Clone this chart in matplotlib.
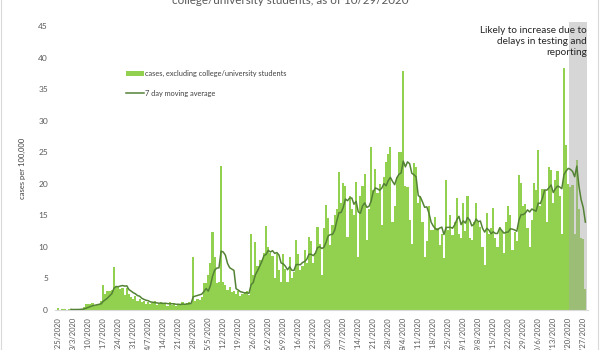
import numpy as np
import pandas as pd
import matplotlib
matplotlib.use('Agg')
import matplotlib.pyplot as plt
from matplotlib.patches import Patch, Rectangle
from matplotlib.lines import Line2D

plt.rcParams['font.family'] = ['Lato', 'DejaVu Sans']

# daily cases per 100,000, 2/25/2020 .. 10/28/2020
cases = [
    0.3, 0, 0.1, 0.1, 0, 0.1, 0.1,
    0.1, 0, 0.2, 0.1, 0.2, 0.4, 1.0,
    1.0, 0.9, 1.1, 0.6, 0.8, 0.9, 1.5,
    3.9, 2.6, 3.0, 3.0, 3.2, 6.8, 3.6,
    3.6, 3.4, 3.5, 2.4, 3.5, 2.6, 2.0,
    1.8, 2.2, 1.5, 1.7, 1.2, 1.4, 1.0,
    1.3, 0.9, 1.1, 1.4, 0.8, 1.0, 1.2,
    0.9, 1.1, 0.7, 1.2, 0.8, 1.0, 0.6,
    1.0, 0.8, 1.2, 0.9, 1.1, 1.3, 1.0,
    8.4, 1.5, 1.8, 1.6, 2.0, 4.3, 4.2,
    5.5, 7.5, 12.3, 8.4, 4.3, 4.5, 22.8,
    4.5, 4.0, 3.2, 3.6, 2.8, 3.0, 2.5,
    3.0, 2.2, 2.6, 2.8, 3.0, 2.4, 12.0,
    5.5, 10.8, 7.0, 8.0, 8.0, 9.0, 13.3,
    10.0, 9.0, 8.5, 5.0, 8.9, 6.3, 4.5,
    8.9, 6.5, 4.5, 8.4, 5.0, 6.0, 11.1,
    8.9, 6.3, 7.0, 9.5, 7.5, 11.6, 11.0,
    7.4, 9.0, 13.2, 10.5, 5.5, 13.0, 16.6,
    14.5, 10.3, 13.5, 15.0, 16.0, 21.9, 17.0,
    20.1, 19.6, 11.6, 18.0, 16.0, 15.0, 20.3,
    8.4, 18.0, 19.6, 21.5, 11.1, 16.0, 25.9,
    19.0, 22.3, 18.5, 20.0, 13.5, 21.0, 23.5,
    24.7, 25.9, 14.0, 16.4, 21.0, 25.0, 25.0,
    37.8, 19.6, 19.5, 14.3, 10.5, 23.3, 22.7,
    17.0, 18.0, 14.0, 8.4, 11.0, 16.4, 12.7,
    12.7, 14.8, 13.0, 10.3, 12.0, 8.2, 20.6,
    12.7, 15.0, 11.9, 14.0, 17.7, 12.0, 11.4,
    16.9, 12.5, 18.0, 11.4, 11.1, 14.0, 17.0,
    14.0, 13.2, 10.0, 7.1, 15.3, 12.0, 13.0,
    16.1, 11.4, 10.0, 13.2, 12.5, 9.0, 14.0,
    16.4, 15.0, 9.5, 12.4, 11.0, 21.4, 20.1,
    16.4, 16.8, 13.0, 10.0, 14.3, 20.1, 19.0,
    25.4, 16.4, 19.1, 18.9, 14.0, 22.7, 22.2,
    17.0, 20.6, 22.0, 18.0, 12.0, 38.3, 26.2,
    20.0, 19.5, 19.8, 12.0, 23.8, 16.0, 11.4,
    11.2, 3.3,
]
start_date = '2020-02-25'
shade_from = '2020-10-21'   # incomplete data
bar_label = 'cases, excluding college/university students'
line_label = '7 day moving average'
title = 'college/university students, as of 10/29/2020'
note = 'Likely to increase due to\ndelays in testing and\nreporting'

dates = pd.date_range(start_date, periods=len(cases))
x = np.arange(len(cases))
ma = pd.Series(cases).rolling(7).mean()
shade_x = int((pd.Timestamp(shade_from) - dates[0]).days) - 0.5

fig = plt.figure(figsize=(6, 3.5), dpi=100)
ax = fig.add_axes([0.0917, 0.1143, 0.8875, 0.8114])

ax.bar(x, cases, width=1.0, color='#92D050', linewidth=0, zorder=1)
ax.add_patch(Rectangle((shade_x, 0), len(cases) - 0.3 - shade_x, 45.6,
                       facecolor='#A6A6A6', alpha=0.45, linewidth=0,
                       zorder=2, clip_on=False))
ax.plot(x, ma, color='#548235', linewidth=1.1, zorder=3)

ax.set_xlim(-1.5, len(cases))
ax.set_ylim(0, 45)
ax.set_yticks(np.arange(0, 46, 5))
ticks = x[::7]
ax.set_xticks(ticks)
ax.set_xticklabels([f'{d.month}/{d.day}/{d.year}' for d in dates[::7]],
                   rotation=90, va='top', ha='center')
ax.tick_params(axis='both', length=0, labelcolor='#595959')
ax.tick_params(axis='x', pad=5, labelsize=5.5)
ax.tick_params(axis='y', pad=5, labelsize=6)
for s in ['top', 'right', 'left']:
    ax.spines[s].set_visible(False)
ax.spines['bottom'].set_color('#D9D9D9')
ax.spines['bottom'].set_linewidth(0.8)
ax.set_ylabel('cases per 100,000', fontsize=5.5, color='#404040', labelpad=9)

handles = [Patch(facecolor='#92D050', edgecolor='none'),
           Line2D([0], [0], color='#548235', linewidth=1.1)]
ax.legend(handles, [bar_label, line_label], loc='upper left',
          bbox_to_anchor=(0.127, 0.857), frameon=False, fontsize=5.3,
          handlelength=2.4, handleheight=0.6, handletextpad=0.2,
          labelspacing=1.7, borderpad=0, labelcolor='#404040')

fig.text(0.978, 0.925, note, ha='right', va='top', fontsize=7.2,
         color='#262626', linespacing=1.3)
fig.text(0.483, 1 - 4 / 350, title, ha='center', va='baseline',
         fontsize=8.4, color='#595959')

fig.add_artist(Rectangle((0.002, -0.05), 0.994, 1.2, transform=fig.transFigure,
                         fill=False, edgecolor='#D9D9D9', linewidth=0.8))

fig.savefig('out.png', dpi=100)
